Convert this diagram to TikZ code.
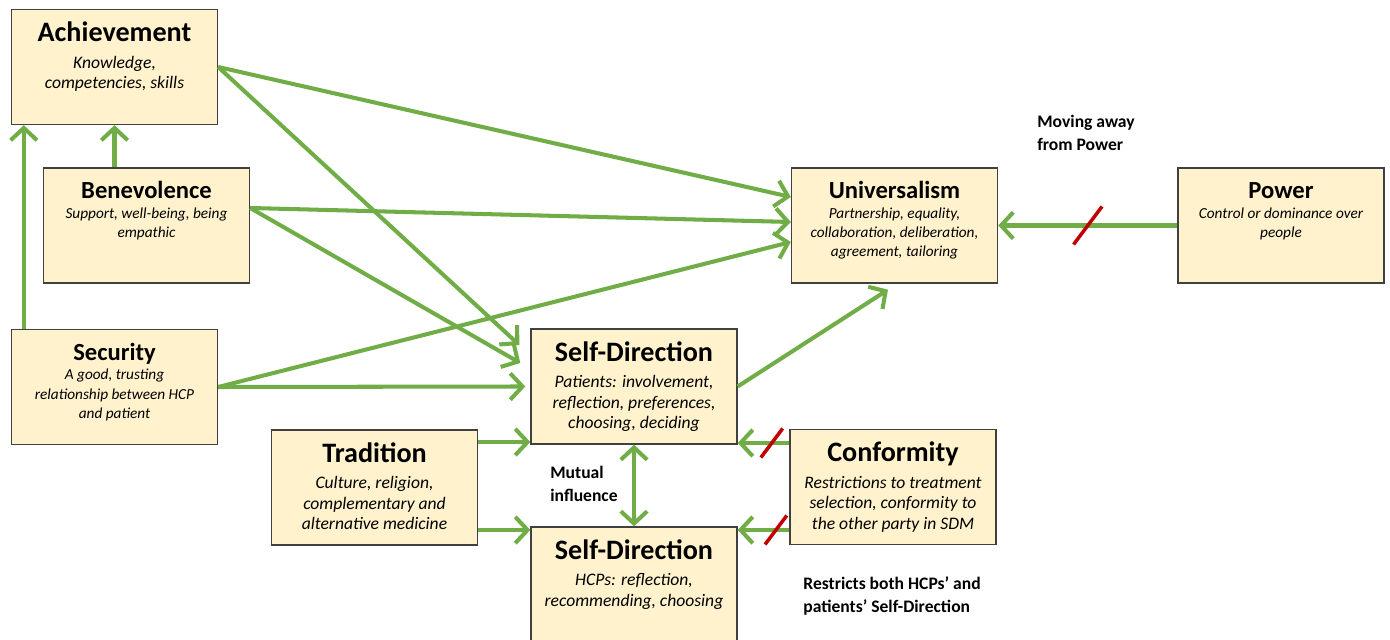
\documentclass[tikz,border=0pt]{standalone}
\usepackage{fontspec}
\setmainfont{Carlito}
\usetikzlibrary{arrows.meta,decorations.markings}

\definecolor{valgreen}{HTML}{70AD47}
\definecolor{valfill}{HTML}{FFF2CC}
\definecolor{valline}{HTML}{404040}
\definecolor{valred}{HTML}{C00000}

% box texts: large title (bigval) or smaller title (smallval)
\newcommand{\bigval}[2]{\parbox[c][2.3cm][t]{4.12cm}{\centering
 {\fontsize{16}{19}\selectfont\bfseries\rule[-5pt]{0pt}{23.3pt}#1\par}\nointerlineskip\vspace{2pt}
 {\fontsize{10}{11.7}\selectfont\itshape\strut #2\par}}}
\newcommand{\smallval}[2]{\parbox[c][2.3cm][t]{4.12cm}{\centering
 {\fontsize{14}{17}\selectfont\bfseries\rule[-3.5pt]{0pt}{20.9pt}#1\par}\nointerlineskip\vspace{0pt}
 {\fontsize{8.7}{11}\selectfont\itshape\strut #2\par}}}

\begin{document}
\begin{tikzpicture}[
 valbox/.style={draw=valline, fill=valfill, line width=0.8pt, inner sep=0pt},
 conn/.style={draw=valgreen, line width=2.3pt, -{Straight Barb[length=7pt,width=15pt]}},
 twoway/.style={conn, {Straight Barb[length=7pt,width=15pt]}-{Straight Barb[length=7pt,width=15pt]}},
 cutline/.style={-, draw=valred, line width=2pt},
 blocked/.style 2 args={postaction={decorate, decoration={markings,
   mark=at position #1 with {\draw[cutline] ({-0.75*#2},{-#2}) -- ({0.75*#2},{#2});}}}},
 note/.style={font=\fontsize{10}{12.7}\selectfont\bfseries, align=left, anchor=west, inner sep=0pt}
]
 \useasboundingbox (0,0) rectangle (27.8,-12.8);

 % values
 \node[valbox] (ach) at (2.29,-1.34) {\bigval{Achievement}{Knowledge,\\competencies, skills}};
 \node[valbox] (ben) at (2.93,-4.51) {\smallval{Benevolence}{Support, well-being, being\\empathic}};
 \node[valbox] (sec) at (2.29,-7.74) {\smallval{Security}{A good, trusting\\relationship between HCP\\and patient}};
 \node[valbox] (tra) at (7.49,-9.75) {\bigval{Tradition}{Culture, religion,\\complementary and\\alternative medicine}};
 \node[valbox] (sdp) at (12.68,-7.73) {\bigval{Self-Direction}{Patients: involvement,\\reflection, preferences,\\choosing, deciding}};
 \node[valbox] (sdh) at (12.68,-11.69) {\bigval{Self-Direction}{HCPs: reflection,\\recommending, choosing}};
 \node[valbox] (con) at (17.86,-9.74) {\bigval{Conformity}{Restrictions to treatment\\selection, conformity to\\the other party in SDM}};
 \node[valbox] (uni) at (17.89,-4.51) {\smallval{Universalism}{Partnership, equality,\\collaboration, deliberation,\\agreement, tailoring}};
 \node[valbox] (pow) at (25.62,-4.51) {\smallval{Power}{Control or dominance over\\people}};

 % notes
 \node[note] (move) at (20.74,-2.66) {Moving away\\from Power};
 \node[note] (mutual) at (11.0,-9.68) {Mutual\\influence};
 \node[note] (restrict) at (16.06,-11.92) {Restricts both HCPs’ and\\patients’ Self-Direction};

 % links
 \draw[conn] ([xshift=0.26cm]sec.north west) -- ([xshift=0.26cm]ach.south west);
 \draw[conn] (ach.south |- ben.north) -- (ach.south);
 \draw[conn] (ach.east) -- ([yshift=0.57cm]uni.west);
 \draw[conn] (ach.east) -- ([shift={(-0.22cm,0.83cm)}]sdp.west);
 \draw[conn] ([yshift=0.35cm]ben.east) -- ([yshift=0.07cm]uni.west);
 \draw[conn] ([yshift=0.35cm]ben.east) -- ([shift={(-0.2cm,0.47cm)}]sdp.west);
 \draw[conn] (sec.east) -- ([yshift=-0.33cm]uni.west);
 \draw[conn] (sec.east) -- ([xshift=-0.1cm]sdp.west);
 \draw[conn] (sdp.east) -- ([shift={(-0.13cm,-0.12cm)}]uni.south);
 \draw[conn] ([yshift=0.91cm]tra.east) -- ([yshift=0.91cm]tra.east -| sdp.west);
 \draw[conn] ([yshift=-0.85cm]tra.east) -- ([yshift=-0.85cm]tra.east -| sdh.west);
 \draw[twoway] (sdp.south) -- (sdh.north);
 \draw[conn, blocked={0.5}{0.38}] (pow.west) -- (uni.east);
 \draw[conn, blocked={0.34}{0.29}] ([yshift=0.88cm]con.west) -- ([yshift=0.88cm]con.west -| sdp.east);
 \draw[conn, blocked={0.26}{0.29}] ([yshift=-0.86cm]con.west) -- ([yshift=-0.86cm]con.west -| sdh.east);
\end{tikzpicture}
\end{document}
